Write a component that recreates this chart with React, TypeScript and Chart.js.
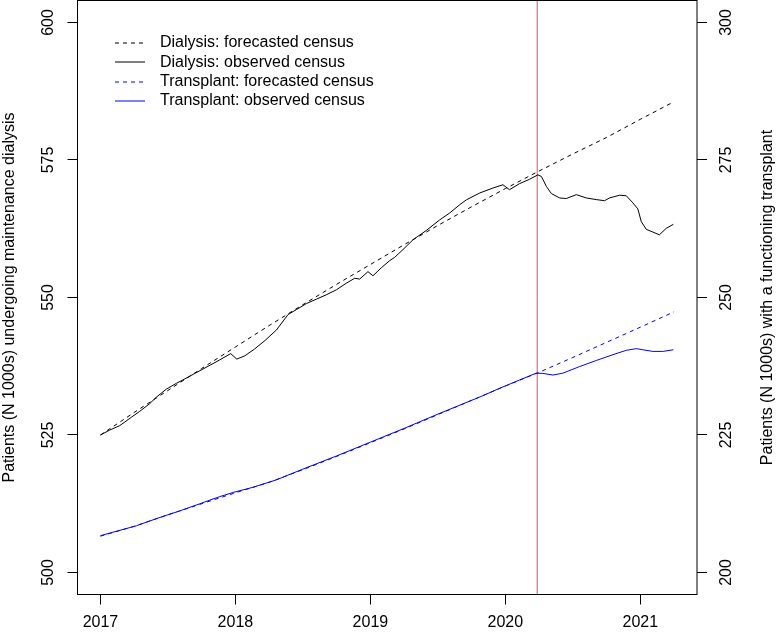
import React, { useEffect, useRef } from "react";
import { Chart, registerables } from "chart.js";

Chart.register(...registerables);

// ---- axes ----
const xTicks = [2017, 2018, 2019, 2020, 2021];
const dialysisTicks = [500, 525, 550, 575, 600];
const transplantTicks = [200, 225, 250, 275, 300];
const xRange = [2016.83, 2021.42];
const dialysisRange = [496, 604];
const transplantRange = [196, 304];
const lockdownT = 2020.236;

const leftTitle = "Patients (N 1000s) undergoing maintenance dialysis";
const rightTitle = "Patients (N 1000s) with a functioning transplant";

const legendLabels = [
  "Dialysis: forecasted census",
  "Dialysis: observed census",
  "Transplant: forecasted census",
  "Transplant: observed census",
];

// ---- dialysis forecast ----
const dialysisForecastT = [
  2017.0, 2017.25, 2017.5, 2017.75, 2018.0, 2018.25, 2018.5, 2018.75, 2019.0,
  2019.25, 2019.5, 2019.75, 2020.0, 2020.25, 2020.5, 2020.75, 2021.0, 2021.25,
];
const dialysisForecastV = [
  525.0, 529.1, 533.1, 537.1, 541.0, 544.9, 548.7, 552.4, 556.0, 559.6, 563.1,
  566.5, 569.8, 573.0, 576.1, 579.1, 582.4, 585.6,
];

// ---- dialysis observed ----
const dialysisObsT = [
  2017.0, 2017.069, 2017.143, 2017.23, 2017.291, 2017.365, 2017.415, 2017.489,
  2017.563, 2017.61, 2017.7, 2017.79, 2017.88, 2017.965, 2018.01, 2018.07,
  2018.14, 2018.22, 2018.304, 2018.39, 2018.452, 2018.526, 2018.6, 2018.674,
  2018.748, 2018.822, 2018.884, 2018.921, 2018.982, 2019.019, 2019.081,
  2019.143, 2019.18, 2019.241, 2019.316, 2019.415, 2019.513, 2019.587,
  2019.661, 2019.711, 2019.81, 2019.908, 2019.982, 2020.031, 2020.105,
  2020.18, 2020.241, 2020.267, 2020.304, 2020.341, 2020.402, 2020.452,
  2020.526, 2020.6, 2020.674, 2020.735, 2020.772, 2020.847, 2020.896,
  2020.945, 2020.982, 2021.007, 2021.044, 2021.093, 2021.141, 2021.193,
  2021.245,
];
const dialysisObsV = [
  525.0, 525.9, 526.7, 528.25, 529.3, 530.7, 531.9, 533.35, 534.4, 535.0,
  536.2, 537.4, 538.6, 539.8, 538.8, 539.4, 540.6, 542.2, 544.1, 546.9, 547.8,
  548.9, 549.7, 550.5, 551.4, 552.6, 553.5, 553.35, 554.7, 553.95, 555.4,
  556.7, 557.3, 558.7, 560.5, 562.2, 564.1, 565.35, 566.85, 567.75, 569.0,
  569.9, 570.5, 569.6, 570.7, 571.5, 572.3, 572.0, 570.2, 568.9, 568.1, 568.0,
  568.7, 568.1, 567.8, 567.6, 568.1, 568.6, 568.5, 567.2, 566.1, 563.8, 562.4,
  561.9, 561.4, 562.6, 563.3,
];

// ---- transplant forecast ----
const transplantForecastT = [
  2017.0, 2017.25, 2017.5, 2017.75, 2018.0, 2018.25, 2018.5, 2018.75, 2019.0,
  2019.25, 2019.5, 2019.75, 2020.0, 2020.25, 2020.5, 2020.75, 2021.0, 2021.25,
];
const transplantForecastV = [
  206.6, 208.4, 210.5, 212.5, 214.5, 216.4, 218.7, 221.1, 223.6, 226.1, 228.7,
  231.3, 233.9, 236.4, 239.1, 241.85, 244.6, 247.4,
];

// ---- transplant observed ----
const transplantObsT = [
  2017.0, 2017.267, 2017.427, 2017.588, 2017.736, 2017.884, 2017.983,
  2018.131, 2018.304, 2018.5, 2018.75, 2019.0, 2019.25, 2019.5, 2019.81,
  2019.958, 2020.105, 2020.229, 2020.278, 2020.353, 2020.427, 2020.551,
  2020.674, 2020.797, 2020.896, 2020.97, 2021.019, 2021.093, 2021.167,
  2021.245,
];
const transplantObsV = [
  206.7, 208.5, 209.9, 211.2, 212.5, 213.8, 214.55, 215.5, 216.85, 218.8,
  221.2, 223.7, 226.2, 228.8, 231.9, 233.5, 235.0, 236.25, 236.2, 235.9,
  236.25, 237.45, 238.55, 239.6, 240.4, 240.7, 240.5, 240.2, 240.2, 240.5,
];

const zip = (t: number[], v: number[]) => t.map((x, i) => ({ x, y: v[i] }));

const FONT = "'Liberation Sans', Arial, Helvetica, sans-serif";
const BLUE = "#0000FF";
const BLACK = "#000000";
const RED = "rgb(232, 72, 107)";

const legendColors = [BLACK, BLACK, BLUE, BLUE];
const legendDashed = [true, false, true, false];

const framePlugin = {
  id: "frame",
  afterDraw(chart: any) {
    const { ctx, chartArea } = chart;
    const { left, top, right, bottom } = chartArea;
    ctx.save();
    ctx.strokeStyle = BLACK;
    ctx.lineWidth = 1;
    ctx.setLineDash([]);
    ctx.strokeRect(left, top, right - left, bottom - top);
    ctx.restore();

    // legend
    for (let i = 0; i < legendLabels.length; i++) {
      const y = 42.7 + i * 19.4;
      const ly = Math.round(y);
      ctx.save();
      ctx.beginPath();
      ctx.lineWidth = 1;
      ctx.strokeStyle = legendColors[i];
      ctx.setLineDash(legendDashed[i] ? [4, 4] : []);
      ctx.moveTo(115, ly);
      ctx.lineTo(145, ly);
      ctx.stroke();
      ctx.restore();
      ctx.save();
      ctx.font = `16px ${FONT}`;
      ctx.textBaseline = "middle";
      ctx.textAlign = "left";
      ctx.fillStyle = BLACK;
      ctx.fillText(legendLabels[i], 160, y);
      ctx.restore();
    }

    // right axis title (reads bottom-to-top)
    ctx.save();
    ctx.font = `16px ${FONT}`;
    ctx.translate(768, (top + bottom) / 2);
    ctx.rotate(-Math.PI / 2);
    ctx.textAlign = "center";
    ctx.textBaseline = "middle";
    ctx.fillStyle = BLACK;
    ctx.fillText(rightTitle, 0, 0);
    ctx.restore();
  },
};

const noPad = (s: any) => {
  s.paddingTop = 0;
  s.paddingBottom = 0;
  s.paddingLeft = 0;
  s.paddingRight = 0;
};

export default function App() {
  const ref = useRef<HTMLCanvasElement | null>(null);

  useEffect(() => {
    if (!ref.current) return;
    Chart.defaults.font.family = FONT;
    Chart.defaults.font.size = 16;
    Chart.defaults.color = "#000";

    const tickCommon = {
      color: "#000",
      font: { family: FONT, size: 16 },
      autoSkip: false,
    };
    const gridCommon = {
      drawOnChartArea: false,
      drawTicks: true,
      tickLength: 10,
      color: "#000",
    };

    const chart = new Chart(ref.current, {
      type: "line",
      data: {
        datasets: [
          {
            label: legendLabels[0],
            data: zip(dialysisForecastT, dialysisForecastV),
            borderColor: BLACK,
            borderDash: [4, 4],
            borderWidth: 1,
            yAxisID: "y",
          },
          {
            label: legendLabels[1],
            data: zip(dialysisObsT, dialysisObsV),
            borderColor: BLACK,
            borderWidth: 1,
            yAxisID: "y",
          },
          {
            label: legendLabels[2],
            data: zip(transplantForecastT, transplantForecastV),
            borderColor: BLUE,
            borderDash: [4, 4],
            borderWidth: 1,
            yAxisID: "y2",
          },
          {
            label: legendLabels[3],
            data: zip(transplantObsT, transplantObsV),
            borderColor: BLUE,
            borderWidth: 1,
            yAxisID: "y2",
          },
          {
            label: "lockdown",
            data: [
              { x: lockdownT, y: dialysisRange[0] },
              { x: lockdownT, y: dialysisRange[1] },
            ],
            borderColor: RED,
            borderWidth: 1,
            yAxisID: "y",
          },
        ],
      },
      options: {
        responsive: false,
        animation: false,
        devicePixelRatio: 1,
        parsing: false,
        layout: { padding: { top: 0.5, left: 0, right: 0, bottom: 0 } },
        elements: {
          point: { radius: 0, hoverRadius: 0 },
          line: { tension: 0, fill: false },
        },
        plugins: {
          legend: { display: false },
          tooltip: { enabled: false },
        },
        events: [],
        scales: {
          x: {
            type: "linear",
            position: "bottom",
            min: xRange[0],
            max: xRange[1],
            afterBuildTicks: (s: any) => {
              s.ticks = xTicks.map((v) => ({ value: v }));
            },
            afterFit: (s: any) => {
              s.height = 39.5;
              noPad(s);
            },
            ticks: {
              ...tickCommon,
              padding: 8,
              maxRotation: 0,
              minRotation: 0,
              callback: (v: any) => String(v),
            },
            grid: gridCommon,
            border: { display: false },
          },
          y: {
            type: "linear",
            position: "left",
            min: dialysisRange[0],
            max: dialysisRange[1],
            afterBuildTicks: (s: any) => {
              s.ticks = dialysisTicks.map((v) => ({ value: v }));
            },
            afterFit: (s: any) => {
              s.width = 77.5;
              noPad(s);
            },
            ticks: {
              ...tickCommon,
              padding: 6,
              minRotation: 90,
              maxRotation: 90,
              crossAlign: "center",
              callback: (v: any) => String(v),
            },
            grid: gridCommon,
            border: { display: false },
            title: {
              display: true,
              text: leftTitle,
              color: "#000",
              font: { family: FONT, size: 16 },
              padding: { top: 0, bottom: 0 },
            },
          },
          y2: {
            type: "linear",
            position: "right",
            min: transplantRange[0],
            max: transplantRange[1],
            afterBuildTicks: (s: any) => {
              s.ticks = transplantTicks.map((v) => ({ value: v }));
            },
            afterFit: (s: any) => {
              s.width = 80;
              noPad(s);
            },
            ticks: {
              ...tickCommon,
              padding: 6,
              minRotation: 90,
              maxRotation: 90,
              crossAlign: "center",
              callback: (v: any) => String(v),
            },
            grid: gridCommon,
            border: { display: false },
          },
        },
      } as any,
      plugins: [framePlugin],
    });

    return () => chart.destroy();
  }, []);

  return (
    <div style={{ position: "absolute", left: 0, top: 0, width: 777, height: 634, background: "#fff" }}>
      <canvas ref={ref} width={777} height={634} style={{ display: "block", width: 777, height: 634 }} />
    </div>
  );
}
